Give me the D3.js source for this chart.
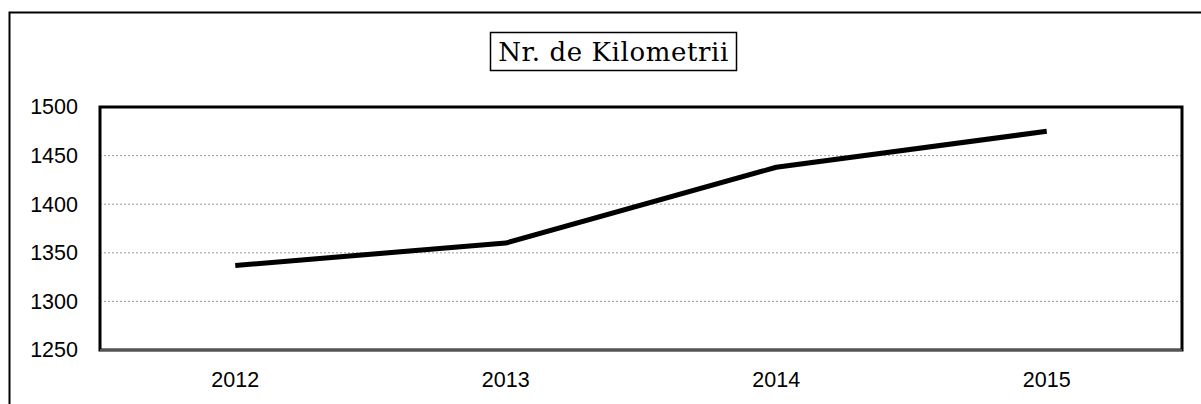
<!DOCTYPE html>
<html>
<head>
<meta charset="utf-8">
<script src="https://cdn.jsdelivr.net/npm/d3@7"></script>
<style>
  html, body { margin: 0; padding: 0; background: #fff; }
  svg { display: block; }
</style>
</head>
<body>
<svg id="chart" width="1201" height="404"></svg>
<script>
const years = ["2012", "2013", "2014", "2015"];
const kilometers = [1337, 1360, 1438, 1475];
const yTicks = [1250, 1300, 1350, 1400, 1450, 1500];
const titleText = "Nr. de Kilometrii";

const svg = d3.select("#chart");
const margin = { left: 100, top: 107, right: 1182, bottom: 350 };

// outer frame (only top and left edges are in view)
svg.append("path")
  .attr("d", "M 9.5 410 L 9.5 12.5 L 1210 12.5")
  .attr("fill", "none")
  .attr("stroke", "#000")
  .attr("stroke-width", 2);

const x = d3.scaleBand()
  .domain(years)
  .range([margin.left, margin.right]);

const y = d3.scaleLinear()
  .domain([1250, 1500])
  .range([margin.bottom, margin.top]);

// dotted gridlines
svg.append("g")
  .selectAll("line")
  .data(yTicks.slice(1, -1))
  .join("line")
  .attr("x1", margin.left)
  .attr("x2", margin.right)
  .attr("y1", (d) => y(d))
  .attr("y2", (d) => y(d))
  .attr("stroke", "#999")
  .attr("stroke-width", 1)
  .attr("stroke-dasharray", "2 2");

// plot area border
svg.append("rect")
  .attr("x", margin.left)
  .attr("y", margin.top)
  .attr("width", margin.right - margin.left)
  .attr("height", margin.bottom - margin.top)
  .attr("fill", "none")
  .attr("stroke", "#000")
  .attr("stroke-width", 3);

svg.append("line")
  .attr("x1", margin.left)
  .attr("x2", margin.right)
  .attr("y1", margin.bottom)
  .attr("y2", margin.bottom)
  .attr("stroke", "#555")
  .attr("stroke-width", 2);

// y axis labels
const yAxis = svg.append("g")
  .attr("transform", `translate(${margin.left - 22},0)`)
  .call(d3.axisLeft(y).tickValues(yTicks).tickFormat(d3.format("d")).tickSize(0).tickPadding(0));
yAxis.select(".domain").remove();
yAxis.attr("font-family", "Liberation Sans, Arial, sans-serif")
  .attr("font-size", 21.5);
yAxis.selectAll("text").attr("fill", "#000");

// x axis labels
const xAxis = svg.append("g")
  .attr("transform", `translate(0,${margin.bottom + 22})`)
  .call(d3.axisBottom(x).tickSize(0).tickPadding(0));
xAxis.select(".domain").remove();
xAxis.attr("font-family", "Liberation Sans, Arial, sans-serif")
  .attr("font-size", 21.5);
xAxis.selectAll("text").attr("fill", "#000");

// data line
const line = d3.line()
  .x((d, i) => x(years[i]) + x.bandwidth() / 2)
  .y((d) => y(d));

svg.append("path")
  .datum(kilometers)
  .attr("d", line)
  .attr("fill", "none")
  .attr("stroke", "#000")
  .attr("stroke-width", 5)
  .attr("stroke-linejoin", "round");

// title with box
const titleGroup = svg.append("g");
titleGroup.append("rect")
  .attr("x", 490.5)
  .attr("y", 32.5)
  .attr("width", 246)
  .attr("height", 38)
  .attr("fill", "#fff")
  .attr("stroke", "#000")
  .attr("stroke-width", 1.5);

titleGroup.append("text")
  .attr("x", 613.5)
  .attr("y", 60.5)
  .attr("text-anchor", "middle")
  .attr("font-family", "DejaVu Serif, Liberation Serif, serif")
  .attr("font-size", 26)
  .attr("letter-spacing", 0.6)
  .attr("fill", "#000")
  .text(titleText);
</script>
</body>
</html>
